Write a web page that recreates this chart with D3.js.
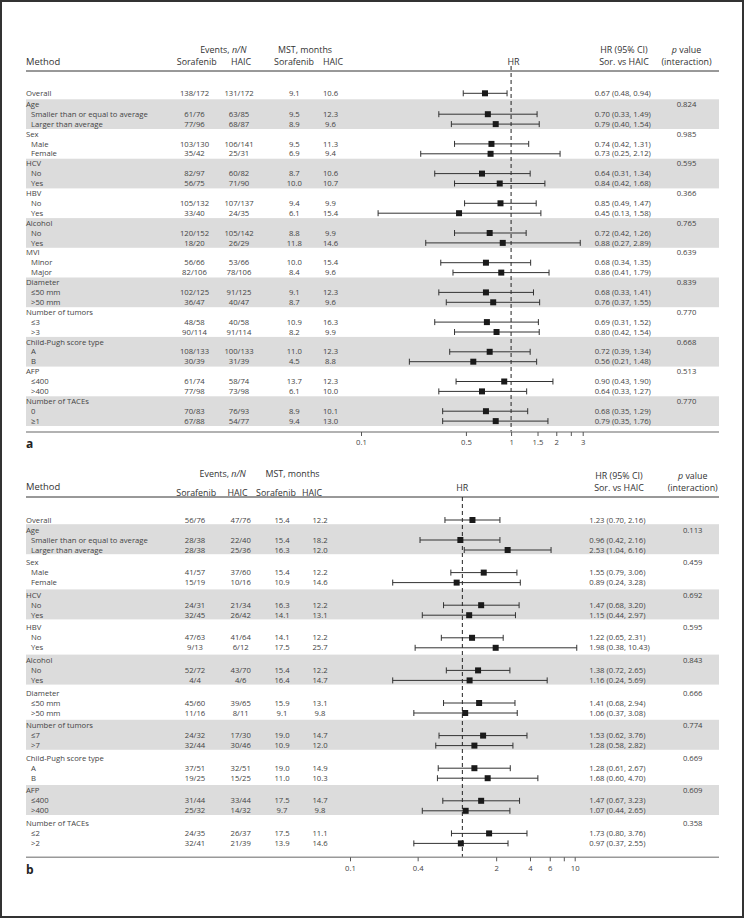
<!DOCTYPE html>
<html><head><meta charset="utf-8">
<script src="https://cdn.jsdelivr.net/npm/d3@7"></script>
<style>
body{margin:0;background:#fff;}
svg{display:block;font-family:"Open Sans",sans-serif;}
</style></head>
<body><svg id="c" width="744" height="918"></svg>
<script>
// ---------- Panel a data ----------
const groupsA = ["Age","Sex","HCV","HBV","Alcohol","MVI","Diameter","Number of tumors","Child-Pugh score type","AFP","Number of TACEs"];
const subgroupsA = [["Smaller than or equal to average","Larger than average"],["Male","Female"],["No","Yes"],["No","Yes"],["No","Yes"],["Minor","Major"],["≤50 mm",">50 mm"],["≤3",">3"],["A","B"],["≤400",">400"],["0","≥1"]];
const pValuesA = ["0.824","0.985","0.595","0.366","0.765","0.639","0.839","0.770","0.668","0.513","0.770"];
// first entry = Overall, then subgroup rows in order
const sorEventsA = ["138/172","61/76","77/96","103/130","35/42","82/97","56/75","105/132","33/40","120/152","18/20","56/66","82/106","102/125","36/47","48/58","90/114","108/133","30/39","61/74","77/98","70/83","67/88"];
const haicEventsA = ["131/172","63/85","68/87","106/141","25/31","60/82","71/90","107/137","24/35","105/142","26/29","53/66","78/106","91/125","40/47","40/58","91/114","100/133","31/39","58/74","73/98","76/93","54/77"];
const sorMstA = ["9.1","9.5","8.9","9.5","6.9","8.7","10.0","9.4","6.1","8.8","11.8","10.0","8.4","9.1","8.7","10.9","8.2","11.0","4.5","13.7","6.1","8.9","9.4"];
const haicMstA = ["10.6","12.3","9.6","11.3","9.4","10.6","10.7","9.9","15.4","9.9","14.6","15.4","9.6","12.3","9.6","16.3","9.9","12.3","8.8","12.3","10.0","10.1","13.0"];
const hrA = [0.67,0.70,0.79,0.74,0.73,0.64,0.84,0.85,0.45,0.72,0.88,0.68,0.86,0.68,0.76,0.69,0.80,0.72,0.56,0.90,0.64,0.68,0.79];
const loA = [0.48,0.33,0.40,0.42,0.25,0.31,0.42,0.49,0.13,0.42,0.27,0.34,0.41,0.33,0.37,0.31,0.42,0.39,0.21,0.43,0.33,0.35,0.35];
const hiA = [0.94,1.49,1.54,1.31,2.12,1.34,1.68,1.47,1.58,1.26,2.89,1.35,1.79,1.41,1.55,1.52,1.54,1.34,1.48,1.90,1.27,1.29,1.76];
const ticksA = [0.1,0.5,1,1.5,2,2.5,3];
const tickLabelsA = ["0.1","0.5","1","1.5","2","","3"];

// ---------- Panel b data ----------
const groupsB = ["Age","Sex","HCV","HBV","Alcohol","Diameter","Number of tumors","Child-Pugh score type","AFP","Number of TACEs"];
const subgroupsB = [["Smaller than or equal to average","Larger than average"],["Male","Female"],["No","Yes"],["No","Yes"],["No","Yes"],["≤50 mm",">50 mm"],["≤7",">7"],["A","B"],["≤400",">400"],["≤2",">2"]];
const pValuesB = ["0.113","0.459","0.692","0.595","0.843","0.666","0.774","0.669","0.609","0.358"];
const sorEventsB = ["56/76","28/38","28/38","41/57","15/19","24/31","32/45","47/63","9/13","52/72","4/4","45/60","11/16","24/32","32/44","37/51","19/25","31/44","25/32","24/35","32/41"];
const haicEventsB = ["47/76","22/40","25/36","37/60","10/16","21/34","26/42","41/64","6/12","43/70","4/6","39/65","8/11","17/30","30/46","32/51","15/25","33/44","14/32","26/37","21/39"];
const sorMstB = ["15.4","15.4","16.3","15.4","10.9","16.3","14.1","14.1","17.5","15.4","16.4","15.9","9.1","19.0","10.9","19.0","11.0","17.5","9.7","17.5","13.9"];
const haicMstB = ["12.2","18.2","12.0","12.2","14.6","12.2","13.1","12.2","25.7","12.2","14.7","13.1","9.8","14.7","12.0","14.9","10.3","14.7","9.8","11.1","14.6"];
const hrB = [1.23,0.96,2.53,1.55,0.89,1.47,1.15,1.22,1.98,1.38,1.16,1.41,1.06,1.53,1.28,1.28,1.68,1.47,1.07,1.73,0.97];
const loB = [0.70,0.42,1.04,0.79,0.24,0.68,0.44,0.65,0.38,0.72,0.24,0.68,0.37,0.62,0.58,0.61,0.60,0.67,0.44,0.80,0.37];
const hiB = [2.16,2.16,6.16,3.06,3.28,3.20,2.97,2.31,10.43,2.65,5.69,2.94,3.08,3.76,2.82,2.67,4.70,3.23,2.65,3.76,2.55];
const ticksB = [0.1,0.4,2,4,6,8,10];
const tickLabelsB = ["0.1","0.4","2","4","6","","10"];

const svg = d3.select("#c");
svg.append("rect").attr("x",1).attr("y",1).attr("width",742).attr("height",916)
  .attr("fill","none").attr("stroke","#333").attr("stroke-width",2);

const fmt = v => v.toFixed(2);
const dataCol = "#444", headCol = "#333";

function panel(cfg){
  const g = svg.append("g");
  const L = 26, R = 719;
  const rows = [];
  rows.push({label:"Overall", indent:0, y:cfg.overallY, idx:0});
  const groupYs = [];
  let k = 1;
  cfg.groups.forEach((gn,gi)=>{
    const gy = cfg.firstGroupY + gi*cfg.groupStep;
    groupYs.push(gy);
    rows.push({label:gn, indent:0, y:gy, idx:null, p:cfg.pValues[gi]});
    cfg.subgroups[gi].forEach((s,si)=>{
      rows.push({label:s, indent:1, y:gy+(si+1)*cfg.rowStep, idx:k});
      k++;
    });
  });
  groupYs.forEach((gy,gi)=>{
    if(gi%2===0){
      g.append("rect").attr("x",L).attr("y",gy-cfg.bandTop).attr("width",R-L)
        .attr("height",cfg.rowStep*3).attr("fill","#dcdcdc");
    }
  });
  const x = d3.scaleLog().domain(cfg.domain).range(cfg.range);
  const T = (xx,yy,txt,anchor,size,col)=> g.append("text").attr("x",xx).attr("y",yy)
      .attr("dy","0.35em").attr("text-anchor",anchor||"start").attr("font-size",size||8.9)
      .attr("fill",col||headCol).text(txt);
  T(L, cfg.h.method, "Method", "start", 9.4);
  const ev = T(cfg.col.evHead, cfg.h.top, "Events, ", "middle");
  ev.append("tspan").attr("font-style","italic").text("n/N");
  T(cfg.col.mstHead, cfg.h.top, "MST, months", "middle");
  T(cfg.col.sorH, cfg.h.sub, "Sorafenib", "middle");
  T(cfg.col.haicH, cfg.h.sub, "HAIC", "middle");
  T(cfg.col.msorH, cfg.h.sub, "Sorafenib", "middle");
  T(cfg.col.mhaicH, cfg.h.sub, "HAIC", "middle");
  T(x(1)+cfg.hrLabelDx, cfg.h.hr, "HR", "middle");
  T(cfg.col.ciHead, cfg.h.top2, "HR (95% CI)", "middle");
  T(cfg.col.ciHead, cfg.h.hr, "Sor. vs HAIC", "middle");
  const pv = T(cfg.col.p, cfg.h.top2, "", "middle");
  pv.append("tspan").attr("font-style","italic").text("p");
  pv.append("tspan").text(" value");
  T(cfg.col.p, cfg.h.hr, "(interaction)", "middle");
  g.append("line").attr("x1",L).attr("x2",R).attr("y1",cfg.h.line).attr("y2",cfg.h.line)
    .attr("stroke","#333").attr("stroke-width",1);

  g.append("line").attr("x1",x(1)).attr("x2",x(1)).attr("y1",cfg.h.dashTop).attr("y2",cfg.axisY)
    .attr("stroke","#222").attr("stroke-width",1).attr("stroke-dasharray","4,3");

  const D = (xx,yy,txt,anchor)=> g.append("text").attr("x",xx).attr("y",yy).attr("dy","0.35em")
      .attr("text-anchor",anchor||"middle").attr("font-size",7.7).attr("fill",dataCol).text(txt);
  rows.forEach(r=>{
    D(L + (r.indent?5:0), r.y, r.label, "start");
    if(r.p) D(cfg.col.p, r.y, r.p);
    if(r.idx!==null){
      const i = r.idx;
      D(cfg.col.sor, r.y, cfg.sorEvents[i]);
      D(cfg.col.haic, r.y, cfg.haicEvents[i]);
      D(cfg.col.msor, r.y, cfg.sorMst[i]);
      D(cfg.col.mhaic, r.y, cfg.haicMst[i]);
      D(cfg.col.ci, r.y, `${fmt(cfg.hr[i])} (${fmt(cfg.lo[i])}, ${fmt(cfg.hi[i])})`, "start");
      const x0 = x(cfg.lo[i]), x1 = x(cfg.hi[i]), xm = x(cfg.hr[i]);
      g.append("line").attr("x1",x0).attr("x2",x1).attr("y1",r.y).attr("y2",r.y).attr("stroke","#333").attr("stroke-width",1);
      [x0,x1].forEach(xx=> g.append("line").attr("x1",xx).attr("x2",xx).attr("y1",r.y-3).attr("y2",r.y+3).attr("stroke","#333").attr("stroke-width",1));
      g.append("rect").attr("x",xm-3).attr("y",r.y-3).attr("width",6).attr("height",6).attr("fill","#1a1a1a");
    }
  });

  g.append("line").attr("x1",L).attr("x2",R).attr("y1",cfg.axisY).attr("y2",cfg.axisY)
    .attr("stroke","#999").attr("stroke-width",1.5);
  const ax = d3.axisBottom(x).tickValues(cfg.ticks)
    .tickFormat((d,i)=>cfg.tickLabels[i]).tickSize(4).tickPadding(4);
  const ag = g.append("g").attr("transform",`translate(0,${cfg.axisY})`).call(ax);
  ag.select(".domain").remove();
  ag.selectAll(".tick line").attr("stroke","#555");
  ag.selectAll(".tick text").attr("font-size",7.7).attr("fill",dataCol).attr("font-family","Open Sans, sans-serif");
  g.append("text").attr("x",L).attr("y",cfg.letterY).attr("dy","0.35em").attr("font-size",12)
    .attr("font-weight","bold").attr("fill","#222").text(cfg.letter);
}

panel({
  groups:groupsA, subgroups:subgroupsA, pValues:pValuesA,
  sorEvents:sorEventsA, haicEvents:haicEventsA, sorMst:sorMstA, haicMst:haicMstA,
  hr:hrA, lo:loA, hi:hiA, ticks:ticksA, tickLabels:tickLabelsA,
  domain:[0.1,3], range:[361,582.7],
  overallY:93.3, firstGroupY:104.3, groupStep:29.7, rowStep:9.9, bandTop:5,
  axisY:432, letterY:444, letter:"a", hrLabelDx:2.5,
  h:{top:50, top2:50, sub:61.5, method:62, hr:61.7, line:71, dashTop:66},
  col:{evHead:223.3, mstHead:305, sorH:196.7, haicH:241, msorH:294, mhaicH:333,
       sor:194.5, haic:239, msor:294.3, mhaic:330.5, ci:594.7, ciHead:624, p:686.5}
});
panel({
  groups:groupsB, subgroups:subgroupsB, pValues:pValuesB,
  sorEvents:sorEventsB, haicEvents:haicEventsB, sorMst:sorMstB, haicMst:haicMstB,
  hr:hrB, lo:loB, hi:hiB, ticks:ticksB, tickLabels:tickLabelsB,
  domain:[0.1,10], range:[350,574.7],
  overallY:520, firstGroupY:530, groupStep:32.6, rowStep:10, bandTop:5.8,
  axisY:857.3, letterY:870, letter:"b", hrLabelDx:0,
  h:{top:474, top2:476, sub:492.5, method:486.7, hr:488.3, line:497, dashTop:497},
  col:{evHead:222.7, mstHead:292.5, sorH:196.3, haicH:237.5, msorH:276, mhaicH:312,
       sor:195, haic:240.7, msor:282, mhaic:320, ci:589.3, ciHead:619, p:692.7}
});
</script></body></html>
